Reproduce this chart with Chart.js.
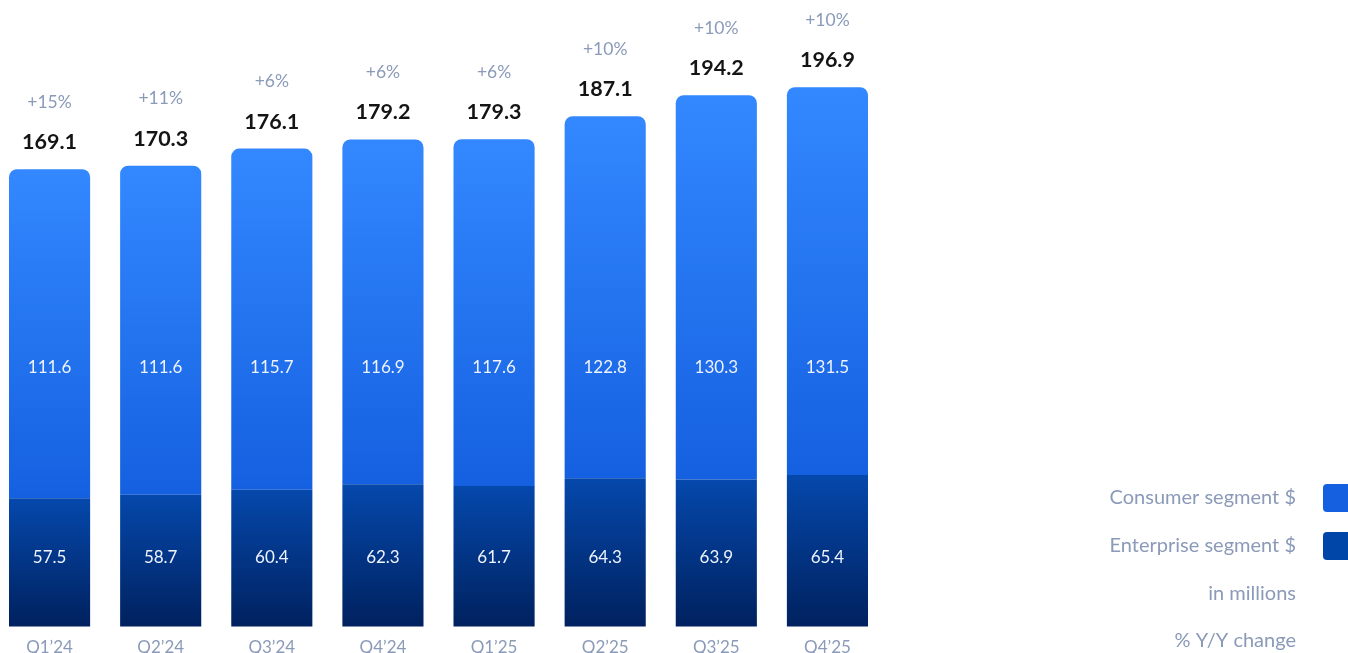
<!DOCTYPE html>
<html>
<head>
<meta charset="utf-8">
<script src="https://cdn.jsdelivr.net/npm/chart.js@4"></script>
<style>
  html, body { margin: 0; padding: 0; background: #fff; overflow: hidden; }
  #wrap { position: absolute; left: -6px; top: 0; width: 1354px; height: 653px; }
</style>
</head>
<body>
<div id="wrap"><canvas id="chart"></canvas></div>
<script>
  const quarters = ["Q1’24", "Q2’24", "Q3’24", "Q4’24", "Q1’25", "Q2’25", "Q3’25", "Q4’25"];
  const enterprise = [57.5, 58.7, 60.4, 62.3, 61.7, 64.3, 63.9, 65.4];
  const consumer = [111.6, 111.6, 115.7, 116.9, 117.6, 122.8, 130.3, 131.5];
  const totals = [169.1, 170.3, 176.1, 179.2, 179.3, 187.1, 194.2, 196.9];
  const yoy = ["+15%", "+11%", "+6%", "+6%", "+6%", "+10%", "+10%", "+10%"];
  const legendItems = ["Consumer segment $", "Enterprise segment $", "in millions", "% Y/Y change"];

  const FONT = "Lato, 'Noto Sans', sans-serif";
  const MUTED = "#8a9ab8";

  // vertical gradient per bar, from segment top to segment bottom
  function barGradient(ctx, topColor, bottomColor, lowArr, highArr) {
    const chart = ctx.chart;
    const y = chart.scales.y;
    if (!chart.chartArea || !y) return bottomColor;
    const i = ctx.dataIndex;
    const top = y.getPixelForValue(highArr[i]);
    const bottom = lowArr ? y.getPixelForValue(lowArr[i]) : chart.chartArea.bottom;
    const g = chart.ctx.createLinearGradient(0, top, 0, bottom);
    g.addColorStop(0, topColor);
    g.addColorStop(1, bottomColor);
    return g;
  }

  const labelsPlugin = {
    id: "barLabels",
    afterDatasetsDraw(chart) {
      const { ctx, chartArea } = chart;
      const y = chart.scales.y;
      const meta = chart.getDatasetMeta(1);
      ctx.save();
      ctx.textAlign = "center";
      ctx.textBaseline = "middle";
      meta.data.forEach((bar, i) => {
        const x = bar.x;
        const top = y.getPixelForValue(totals[i]);
        // segment values
        ctx.fillStyle = "#eef3ff";
        ctx.font = "17px " + FONT;
        ctx.fillText(consumer[i].toFixed(1), x, chartArea.bottom - 259);
        ctx.fillText(enterprise[i].toFixed(1), x, chartArea.bottom - 69);
        // totals
        ctx.fillStyle = "#141414";
        ctx.font = "bold 21.5px " + FONT;
        ctx.fillText(totals[i].toFixed(1), x, top - 27);
        // y/y change
        ctx.fillStyle = MUTED;
        ctx.font = "17.5px " + FONT;
        ctx.fillText(yoy[i], x, top - 67);
      });
      ctx.restore();
    }
  };

  const legendPlugin = {
    id: "sideLegend",
    afterDraw(chart) {
      const { ctx } = chart;
      const textRight = 1302;
      const rows = [498, 546, 594, 641];
      const swatches = ["#1560e0", "#0046a8"];
      ctx.save();
      ctx.font = "20px " + FONT;
      ctx.textAlign = "right";
      ctx.textBaseline = "middle";
      legendItems.forEach((t, i) => {
        ctx.fillStyle = MUTED;
        ctx.fillText(t, textRight, rows[i]);
        if (swatches[i]) {
          ctx.fillStyle = swatches[i];
          ctx.beginPath();
          ctx.roundRect(1329, rows[i] - 14, 40, 28, 4);
          ctx.fill();
        }
      });
      ctx.restore();
    }
  };

  new Chart(document.getElementById("chart"), {
    type: "bar",
    data: {
      labels: quarters,
      datasets: [
        {
          label: "Enterprise segment $",
          data: enterprise,
          backgroundColor: c => barGradient(c, "#0548ac", "#00215e", null, enterprise),
          borderRadius: { topLeft: 0, topRight: 0, bottomLeft: 5, bottomRight: 5 },
          borderSkipped: false,
          barPercentage: 0.73,
          categoryPercentage: 1
        },
        {
          label: "Consumer segment $",
          data: consumer,
          backgroundColor: c => barGradient(c, "#3388ff", "#1560e0", enterprise, totals),
          borderRadius: { topLeft: 8, topRight: 8, bottomLeft: 0, bottomRight: 0 },
          borderSkipped: false,
          barPercentage: 0.73,
          categoryPercentage: 1
        }
      ]
    },
    options: {
      responsive: true,
      maintainAspectRatio: false,
      animation: false,
      layout: { padding: { left: 0, right: 465, top: 0, bottom: -16 } },
      plugins: {
        legend: { display: false },
        tooltip: { enabled: false }
      },
      scales: {
        x: {
          stacked: true,
          grid: { display: false, drawTicks: false },
          border: { display: false },
          ticks: { color: MUTED, font: { family: FONT, size: 17 }, padding: 11 }
        },
        y: {
          stacked: true,
          display: false,
          min: 14,
          max: 226.5
        }
      }
    },
    plugins: [labelsPlugin, legendPlugin]
  });
</script>
</body>
</html>
